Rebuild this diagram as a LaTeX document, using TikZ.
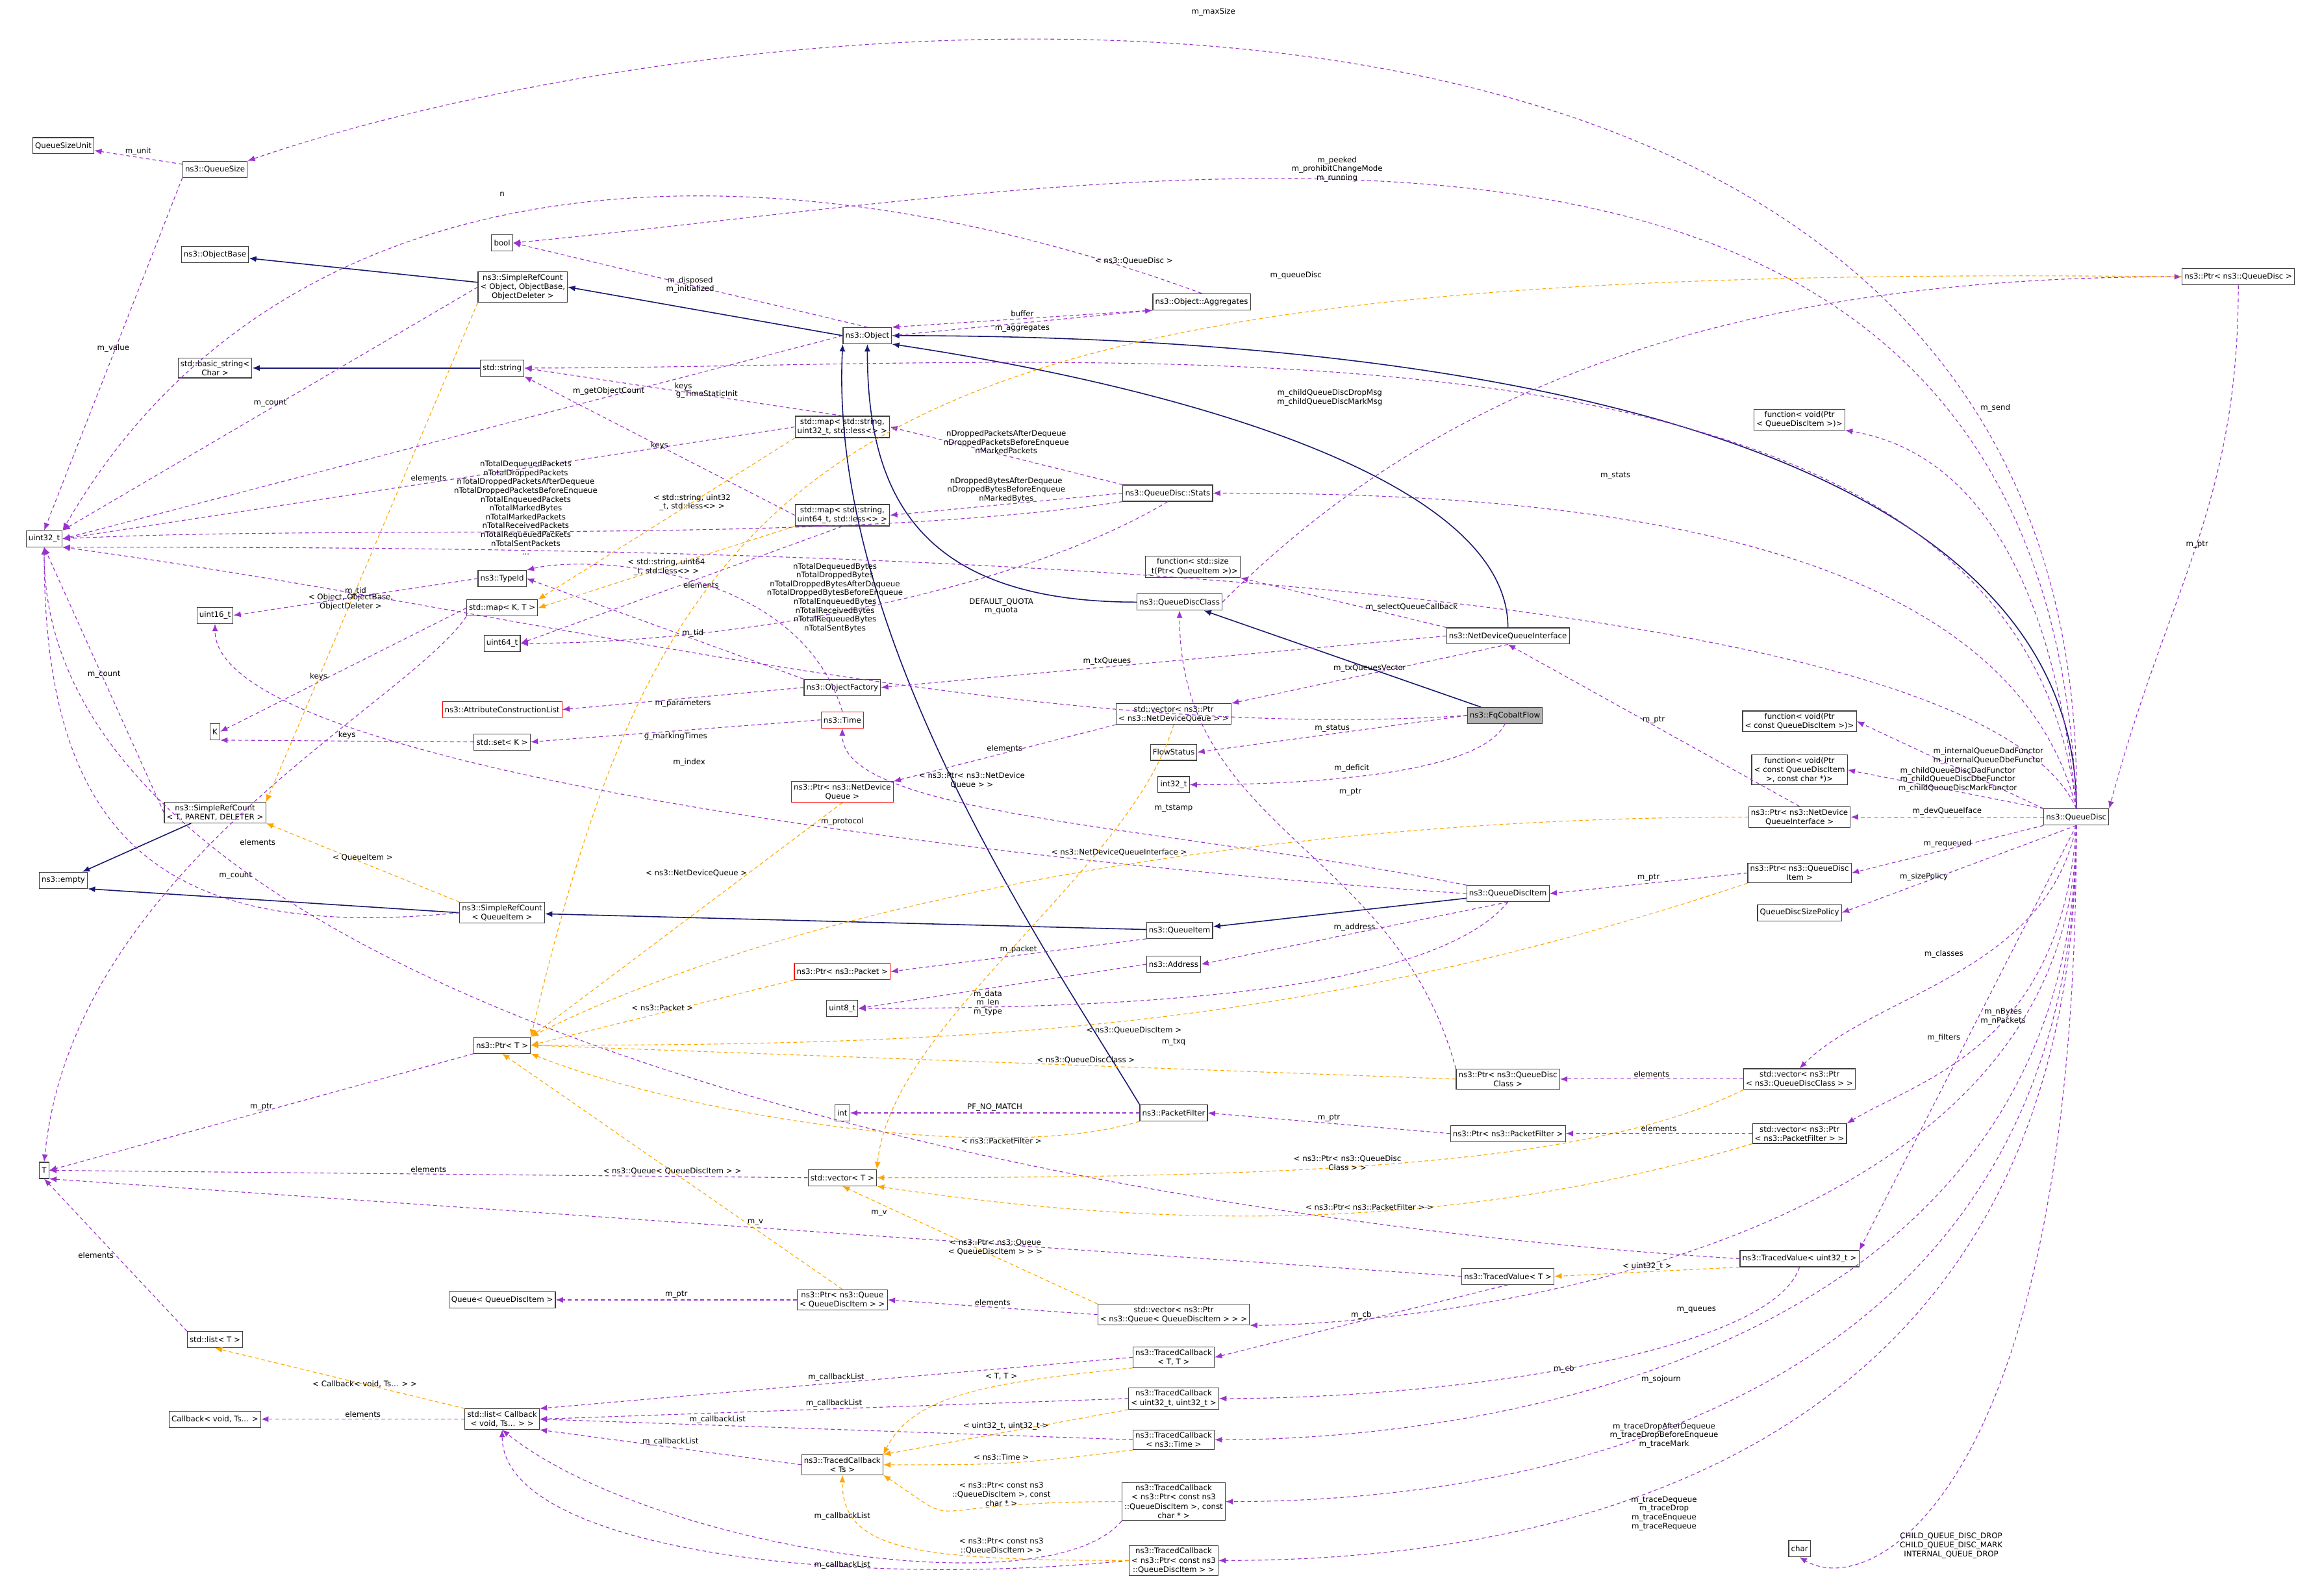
\documentclass[tikz,border=0pt]{standalone}
\usepackage{fontspec}
\setmainfont{DejaVu Sans}
\usetikzlibrary{arrows.meta}
\definecolor{usecol}{HTML}{9A32CD}
\definecolor{tplcol}{HTML}{FFA500}
\definecolor{inhcol}{HTML}{191970}
\tikzset{
  cls/.style={draw=black!75, fill=white, line width=0.5pt, inner sep=1.6pt,
    minimum height=11pt, align=center, font=\fontsize{5.2}{6.2}\selectfont},
  undoc/.style={cls, draw=red},
  cur/.style={cls, fill=black!30},
  lbl/.style={text=black, font=\fontsize{5.2}{6}\selectfont, align=center, inner sep=1pt},
  use/.style={usecol, dash pattern=on 2.5pt off 2pt, line width=0.5pt, -{Latex[length=5pt,width=4pt]}},
  tpl/.style={tplcol, dash pattern=on 2.5pt off 2pt, line width=0.5pt, -{Latex[length=5pt,width=4pt]}},
  inh/.style={inhcol, line width=0.7pt, -{Latex[length=5pt,width=4pt]}}
}
\begin{document}
\begin{tikzpicture}[x=1pt,y=1pt,yscale=-1]
\useasboundingbox[fill=white] (0,0) rectangle (1568,1084);

% classes
\node[cls] (qsu)   at (43,99)    {QueueSizeUnit};
\node[cls] (qsize) at (146,115)  {ns3::QueueSize};
\node[cls] (bool)  at (341,165)  {bool};
\node[cls] (obase) at (146,173)  {ns3::ObjectBase};
\node[cls] (srco)  at (355,195)  {ns3::SimpleRefCount\\< Object, ObjectBase,\\ObjectDeleter >};
\node[cls] (obj)   at (589,228)  {ns3::Object};
\node[cls] (aggr)  at (816,205)  {ns3::Object::Aggregates};
\node[cls] (pqd)   at (1520,188) {ns3::Ptr< ns3::QueueDisc >};
\node[cls] (bstr)  at (146,250)  {std::basic\_string<\\Char >};
\node[cls] (str)   at (341,250)  {std::string};
\node[cls] (map32) at (572,290)  {std::map< std::string,\\uint32\_t, std::less<> >};
\node[cls] (fsend) at (1222,285) {function< void(Ptr\\< QueueDiscItem >)>};
\node[cls] (stats) at (793,335)  {ns3::QueueDisc::Stats};
\node[cls] (map64) at (572,350)  {std::map< std::string,\\uint64\_t, std::less<> >};
\node[cls] (u32)   at (30,366)   {uint32\_t};
\node[cls] (fsize) at (810,385)  {function< std::size\\\_t(Ptr< QueueItem >)>};
\node[cls] (tid)   at (341,393)  {ns3::TypeId};
\node[cls] (qdc)   at (801,409)  {ns3::QueueDiscClass};
\node[cls] (mapkt) at (341,413)  {std::map< K, T >};
\node[cls] (u16)   at (146,418)  {uint16\_t};
\node[cls] (ndqi)  at (1024,432) {ns3::NetDeviceQueueInterface};
\node[cls] (u64)   at (341,437)  {uint64\_t};
\node[cls] (ofac)  at (572,467)  {ns3::ObjectFactory};
\node[undoc] (acl) at (341,482)  {ns3::AttributeConstructionList};
\node[cls] (vndq)  at (797,485)  {std::vector< ns3::Ptr\\< ns3::NetDeviceQueue > >};
\node[cur] (fq)    at (1022,486) {ns3::FqCobaltFlow};
\node[undoc] (time) at (572,489) {ns3::Time};
\node[cls] (kk)    at (146,497)  {K};
\node[cls] (setk)  at (341,504)  {std::set< K >};
\node[cls] (fstat) at (797,511)  {FlowStatus};
\node[cls] (fdad)  at (1222,490) {function< void(Ptr\\< const QueueDiscItem >)>};
\node[cls] (fdrop) at (1222,523) {function< void(Ptr\\< const QueueDiscItem\\>, const char *)>};
\node[cls] (i32)   at (797,533)  {int32\_t};
\node[undoc] (pndq) at (572,538) {ns3::Ptr< ns3::NetDevice\\Queue >};
\node[cls] (srct)  at (146,552)  {ns3::SimpleRefCount\\< T, PARENT, DELETER >};
\node[cls] (pndqi) at (1222,555) {ns3::Ptr< ns3::NetDevice\\QueueInterface >};
\node[cls] (qd)    at (1410,555) {ns3::QueueDisc};
\node[cls] (empty) at (43,598)   {ns3::empty};
\node[cls] (pqdi)  at (1222,593) {ns3::Ptr< ns3::QueueDisc\\Item >};
\node[cls] (qdi)   at (1024,607) {ns3::QueueDiscItem};
\node[cls] (srcq)  at (341,620)  {ns3::SimpleRefCount\\< QueueItem >};
\node[cls] (qdsp)  at (1222,620) {QueueDiscSizePolicy};
\node[cls] (qi)    at (801,632)  {ns3::QueueItem};
\node[undoc] (ppkt) at (572,660) {ns3::Ptr< ns3::Packet >};
\node[cls] (addr)  at (797,655)  {ns3::Address};
\node[cls] (u8)    at (572,685)  {uint8\_t};
\node[cls] (ptrt)  at (341,710)  {ns3::Ptr< T >};
\node[cls] (pqdc)  at (1024,733) {ns3::Ptr< ns3::QueueDisc\\Class >};
\node[cls] (vqdc)  at (1222,733) {std::vector< ns3::Ptr\\< ns3::QueueDiscClass > >};
\node[cls] (int)   at (572,756)  {int};
\node[cls] (pf)    at (797,756)  {ns3::PacketFilter};
\node[cls] (ppf)   at (1024,770) {ns3::Ptr< ns3::PacketFilter >};
\node[cls] (vpf)   at (1222,770) {std::vector< ns3::Ptr\\< ns3::PacketFilter > >};
\node[cls] (tt)    at (30,795)   {T};
\node[cls] (vect)  at (572,800)  {std::vector< T >};
\node[cls] (tv32)  at (1222,855) {ns3::TracedValue< uint32\_t >};
\node[cls] (tvt)   at (1024,867) {ns3::TracedValue< T >};
\node[cls] (qqdi)  at (341,883)  {Queue< QueueDiscItem >};
\node[cls] (pq)    at (572,883)  {ns3::Ptr< ns3::Queue\\< QueueDiscItem > >};
\node[cls] (vpq)   at (797,893)  {std::vector< ns3::Ptr\\< ns3::Queue< QueueDiscItem > > >};
\node[cls] (listt) at (146,910)  {std::list< T >};
\node[cls] (tctt)  at (797,922)  {ns3::TracedCallback\\< T, T >};
\node[cls] (tc32)  at (797,950)  {ns3::TracedCallback\\< uint32\_t, uint32\_t >};
\node[cls] (cb)    at (146,964)  {Callback< void, Ts... >};
\node[cls] (lcb)   at (341,964)  {std::list< Callback\\< void, Ts... > >};
\node[cls] (tctm)  at (797,978)  {ns3::TracedCallback\\< ns3::Time >};
\node[cls] (tcts)  at (572,995)  {ns3::TracedCallback\\< Ts >};
\node[cls] (tcpc)  at (797,1020) {ns3::TracedCallback\\< ns3::Ptr< const ns3\\::QueueDiscItem >, const\\char * >};
\node[cls] (tcp)   at (797,1060) {ns3::TracedCallback\\< ns3::Ptr< const ns3\\::QueueDiscItem > >};
\node[cls] (char)  at (1222,1052) {char};

% inheritance
\draw[inh] (srco) -- (obase);
\draw[inh] (obj.west) -- (srco.east);
\draw[inh] (str) -- (bstr);
\draw[inh] (srct) -- (empty);
\draw[inh] (srcq.west) -- (empty.south east);
\draw[inh] (qd.north) .. controls +(0,-250) and +(400,0) .. (obj.east);
\draw[inh] (ndqi.north) .. controls +(0,-100) and +(200,30) .. (obj.south east);
\draw[inh] (qdc.west) .. controls +(-150,0) and +(0,100) .. (obj.south);
\draw[inh] (fq) -- (qdc);
\draw[inh] (qi) -- (srcq);
\draw[inh] (qdi) -- (qi);
\draw[inh] (pf.north west) .. controls +(-60,-100) and +(-10,200) .. (obj.south west);

% usage
\draw[use] (qsize) -- node[lbl,above]{m\_unit} (qsu);
\draw[use] (qsize.south west) -- node[lbl,above]{m\_value} (u32.north);
\draw[use] (qd.north) .. controls +(10,-640) and +(350,-120) .. (qsize.north east);
\node[lbl] at (824,8) {m\_maxSize};
\draw[use] (aggr.north) .. controls +(-300,-110) and +(150,-260) .. (u32.north east);
\node[lbl] at (341,132) {n};
\draw[use] (aggr.south west) -- node[lbl,above]{buffer} (obj.north east);
\draw[use] (obj.east) -- node[lbl,below]{m\_aggregates} (aggr.south west);
\draw[use] (obj.north) -- node[lbl]{m\_disposed\\m\_initialized} (bool.east);
\draw[use] (qd.north) .. controls +(-20,-560) and +(420,-40) .. (bool.east);
\node[lbl] at (908,115) {m\_peeked\\m\_prohibitChangeMode\\m\_running};
\draw[use] (srco.west) -- node[lbl,above]{m\_count} (u32.north east);
\draw[use] (obj.west) -- node[lbl,above,pos=0.3]{m\_getObjectCount} (u32.east);
\draw[use] (qdc.east) .. controls +(150,-150) and +(-300,0) .. (pqd.west);
\node[lbl] at (880,187) {m\_queueDisc};
\draw[use] (pqd.south) .. controls +(0,150) and +(40,-150) .. (qd.north east);
\node[lbl] at (1492,370) {m\_ptr};
\draw[use] (qd.north) .. controls +(-40,-360) and +(400,0) .. (str.east);
\node[lbl] at (903,270) {m\_childQueueDiscDropMsg\\m\_childQueueDiscMarkMsg};
\draw[use] (map32.north) -- node[lbl,above]{keys} (str.east);
\draw[use] (map32.west) -- node[lbl,above]{elements} (u32.east);
\draw[use] (map64.west) -- node[lbl]{keys} (str.south east);
\draw[use] (map64.south) -- node[lbl,right]{elements} (u64.east);
\draw[use] (stats.north west) -- node[lbl,above]{nDroppedPacketsAfterDequeue\\nDroppedPacketsBeforeEnqueue\\nMarkedPackets} (map32.east);
\draw[use] (stats.west) -- node[lbl,above]{nDroppedBytesAfterDequeue\\nDroppedBytesBeforeEnqueue\\nMarkedBytes} (map64.east);
\draw[use] (stats.south west) .. controls +(-200,30) and +(200,-10) .. (u32.east);
\node[lbl] at (357,345) {nTotalDequeuedPackets\\nTotalDroppedPackets\\nTotalDroppedPacketsAfterDequeue\\nTotalDroppedPacketsBeforeEnqueue\\nTotalEnqueuedPackets\\nTotalMarkedBytes\\nTotalMarkedPackets\\nTotalReceivedPackets\\nTotalRequeuedPackets\\nTotalSentPackets\\...};
\draw[use] (stats.south) .. controls +(-100,60) and +(150,0) .. (u64.east);
\node[lbl] at (567,406) {nTotalDequeuedBytes\\nTotalDroppedBytes\\nTotalDroppedBytesAfterDequeue\\nTotalDroppedBytesBeforeEnqueue\\nTotalEnqueuedBytes\\nTotalReceivedBytes\\nTotalRequeuedBytes\\nTotalSentBytes};
\draw[use] (qd.north) .. controls +(-50,-200) and +(200,0) .. (stats.east);
\node[lbl] at (1097,323) {m\_stats};
\draw[use] (qd.north) .. controls +(-20,-200) and +(60,10) .. (fsend.south east);
\node[lbl] at (1355,277) {m\_send};
\draw[use] (ndqi.north west) -- node[lbl,right,pos=0.4]{m\_selectQueueCallback} (fsize.south east);
\draw[use] (ndqi.west) -- node[lbl,above,pos=0.6]{m\_txQueues} (ofac.east);
\draw[use] (ndqi.south) -- node[lbl,above]{m\_txQueuesVector} (vndq.north east);
\draw[use] (qd.north) .. controls +(-80,-180) and +(300,0) .. (u32.south east);
\node[lbl] at (680,412) {DEFAULT\_QUOTA\\m\_quota};
\draw[use] (ofac.north west) -- node[lbl,above,pos=0.4]{m\_tid} (tid.east);
\draw[use] (ofac.west) -- node[lbl,below]{m\_parameters} (acl.east);
\draw[use] (tid.west) -- node[lbl,above]{m\_tid} (u16.east);
\draw[use] (mapkt.west) -- node[lbl,above,pos=0.6]{keys} (kk.east);
\draw[use] (mapkt.south west) .. controls +(-40,60) and +(20,-200) .. (tt.north);
\node[lbl] at (175,572) {elements};
\draw[use] (setk.west) -- node[lbl,above]{keys} (kk.south east);
\draw[use] (time.west) -- node[lbl,below]{g\_markingTimes} (setk.east);
\draw[use] (time.north) .. controls +(-30,-100) and +(40,-10) .. (tid.north east);
\node[lbl] at (480,268) {g\_TimeStaticInit};
\draw[use] (fq.west) -- node[lbl,above]{m\_status} (fstat.east);
\draw[use] (fq.south) .. controls +(-20,40) and +(40,0) .. (i32.east);
\node[lbl] at (918,522) {m\_deficit};
\draw[use] (fq.west) .. controls +(-300,20) and +(300,40) .. (u32.south east);
\node[lbl] at (468,518) {m\_index};
\draw[use] (vndq.south west) -- node[lbl,above]{elements} (pndq.north east);
\draw[use] (qdi.north west) .. controls +(-200,-40) and +(0,60) .. (time.south);
\node[lbl] at (797,549) {m\_tstamp};
\draw[use] (qdi.west) .. controls +(-300,-20) and +(0,100) .. (u16.south);
\node[lbl] at (572,558) {m\_protocol};
\draw[use] (qdi.south) -- node[lbl,above]{m\_address} (addr.east);
\draw[use] (qdi.south) .. controls +(-50,60) and +(200,0) .. (u8.east);
\node[lbl] at (797,708) {m\_txq};
\draw[use] (pqdi.west) -- node[lbl,above]{m\_ptr} (qdi.east);
\draw[use] (pndqi.north) -- node[lbl,above]{m\_ptr} (ndqi.south);
\draw[use] (pqdc.north west) .. controls +(-40,-150) and +(0,150) .. (qdc.south);
\node[lbl] at (917,538) {m\_ptr};
\draw[use] (qi.south west) -- node[lbl,above]{m\_packet} (ppkt.east);
\draw[use] (addr.west) -- node[lbl,below,pos=0.55]{m\_data\\m\_len\\m\_type} (u8.east);
\draw[use] (srct.west) -- node[lbl,above]{m\_count} (u32.south);
\draw[use] (srcq.west) .. controls +(-200,20) and +(0,200) .. (u32.south);
\node[lbl] at (160,595) {m\_count};
\draw[use] (ptrt.south west) -- node[lbl,above]{m\_ptr} (tt.east);
\draw[use] (vect.west) -- node[lbl,above]{elements} (tt.east);
\draw[use] (pf.west) -- node[lbl,above]{PF\_NO\_MATCH} (int.east);
\draw[use] (ppf.west) -- node[lbl,above]{m\_ptr} (pf.east);
\draw[use] (vpf.west) -- node[lbl,above]{elements} (ppf.east);
\draw[use] (vqdc.west) -- node[lbl,above]{elements} (pqdc.east);
\draw[use] (tv32.west) .. controls +(-500,-30) and +(0,300) .. (u32.south);
\node[lbl] at (597,824) {m\_v};
\draw[use] (tvt.west) -- node[lbl,above]{m\_v} (tt.south east);
\draw[use] (tvt.south) -- node[lbl,above]{m\_cb} (tctt.east);
\draw[use] (tv32.south) .. controls +(-20,60) and +(150,0) .. (tc32.east);
\node[lbl] at (1062,930) {m\_cb};
\draw[use] (pq.west) -- node[lbl,above]{m\_ptr} (qqdi.east);
\draw[use] (vpq.west) -- node[lbl,above]{elements} (pq.east);
\draw[use] (listt.north west) -- node[lbl,left]{elements} (tt.south);
\draw[use] (lcb.west) -- node[lbl,above]{elements} (cb.east);
\draw[use] (tctt.west) -- node[lbl,above]{m\_callbackList} (lcb.north east);
\draw[use] (tc32.west) -- node[lbl,above]{m\_callbackList} (lcb.east);
\draw[use] (tctm.west) -- node[lbl,above,pos=0.7]{m\_callbackList} (lcb.east);
\draw[use] (tcts.west) -- node[lbl,above]{m\_callbackList} (lcb.south east);
\draw[use] (tcpc.south west) .. controls +(-50,60) and +(100,80) .. (lcb.south);
\node[lbl] at (572,1030) {m\_callbackList};
\draw[use] (tcp.west) .. controls +(-200,20) and +(0,80) .. (lcb.south);
\node[lbl] at (572,1063) {m\_callbackList};

% QueueDisc members
\draw[use] (qd.north west) -- node[lbl,right,pos=0.6]{m\_internalQueueDadFunctor\\m\_internalQueueDbeFunctor} (fdad.east);
\draw[use] (qd.north west) -- node[lbl,right,pos=0.75]{m\_childQueueDiscDadFunctor\\m\_childQueueDiscDbeFunctor\\m\_childQueueDiscMarkFunctor} (fdrop.east);
\draw[use] (qd.west) -- node[lbl,above]{m\_devQueueIface} (pndqi.east);
\draw[use] (qd.south west) -- node[lbl,above]{m\_requeued} (pqdi.east);
\draw[use] (qd.south) -- node[lbl,above,pos=0.65]{m\_sizePolicy} (qdsp.east);
\draw[use] (qd.south) .. controls +(-20,100) and +(50,-50) .. (vqdc.north);
\node[lbl] at (1320,648) {m\_classes};
\draw[use] (qd.south) .. controls +(-10,150) and +(50,-30) .. (vpf.north east);
\node[lbl] at (1320,705) {m\_filters};
\draw[use] (qd.south) -- node[lbl,right,pos=0.45]{m\_nBytes\\m\_nPackets} (tv32.north east);
\draw[use] (qd.south) .. controls +(0,300) and +(100,0) .. (vpq.south east);
\node[lbl] at (1152,890) {m\_queues};
\draw[use] (qd.south) .. controls +(0,350) and +(200,0) .. (tctm.east);
\node[lbl] at (1128,937) {m\_sojourn};
\draw[use] (qd.south) .. controls +(0,400) and +(200,0) .. (tcpc.east);
\node[lbl] at (1130,975) {m\_traceDropAfterDequeue\\m\_traceDropBeforeEnqueue\\m\_traceMark};
\draw[use] (qd.south) .. controls +(0,450) and +(200,0) .. (tcp.east);
\node[lbl] at (1130,1028) {m\_traceDequeue\\m\_traceDrop\\m\_traceEnqueue\\m\_traceRequeue};
\draw[use] (qd.south) .. controls +(0,450) and +(50,30) .. (char.south);
\node[lbl] at (1325,1050) {CHILD\_QUEUE\_DISC\_DROP\\CHILD\_QUEUE\_DISC\_MARK\\INTERNAL\_QUEUE\_DROP};

% templates
\draw[tpl] (pqd.west) .. controls +(-900,-10) and +(100,-420) .. (ptrt.north east);
\node[lbl] at (770,177) {< ns3::QueueDisc >};
\draw[tpl] (srco.south west) -- node[lbl,pos=0.6]{< Object, ObjectBase,\\ObjectDeleter >} (srct.north east);
\draw[tpl] (srcq.north west) -- node[lbl,above]{< QueueItem >} (srct.south east);
\draw[tpl] (map32.south west) -- node[lbl,pos=0.4]{< std::string, uint32\\\_t, std::less<> >} (mapkt.north east);
\draw[tpl] (map64.south west) -- node[lbl,pos=0.5]{< std::string, uint64\\\_t, std::less<> >} (mapkt.east);
\draw[tpl] (pndq.south) -- node[lbl,left,pos=0.3]{< ns3::NetDeviceQueue >} (ptrt.north east);
\draw[tpl] (pndqi.west) .. controls +(-300,0) and +(200,-100) .. (ptrt.north east);
\node[lbl] at (760,579) {< ns3::NetDeviceQueueInterface >};
\draw[tpl] (ppkt.south west) -- node[lbl,above]{< ns3::Packet >} (ptrt.east);
\draw[tpl] (pqdi.south west) .. controls +(-300,100) and +(300,0) .. (ptrt.east);
\node[lbl] at (770,700) {< ns3::QueueDiscItem >};
\draw[tpl] (pqdc.west) -- node[lbl,above,pos=0.4]{< ns3::QueueDiscClass >} (ptrt.east);
\draw[tpl] (pf.south west) .. controls +(-100,30) and +(100,40) .. (ptrt.south east);
\node[lbl] at (680,775) {< ns3::PacketFilter >};
\draw[tpl] (pq.north) -- node[lbl,pos=0.5]{< ns3::Queue< QueueDiscItem > >} (ptrt.south);
\draw[tpl] (vndq.south) .. controls +(-30,100) and +(10,-100) .. (vect.north east);
\node[lbl] at (660,530) {< ns3::Ptr< ns3::NetDevice\\Queue > >};
\draw[tpl] (vqdc.south west) .. controls +(-100,50) and +(300,0) .. (vect.east);
\node[lbl] at (915,790) {< ns3::Ptr< ns3::QueueDisc\\Class > >};
\draw[tpl] (vpf.south west) .. controls +(-200,60) and +(200,30) .. (vect.south east);
\node[lbl] at (930,820) {< ns3::Ptr< ns3::PacketFilter > >};
\draw[tpl] (vpq.north west) -- node[lbl,above,pos=0.4]{< ns3::Ptr< ns3::Queue\\< QueueDiscItem > > >} (vect.south);
\draw[tpl] (tv32.south west) -- node[lbl,above]{< uint32\_t >} (tvt.east);
\draw[tpl] (lcb.north west) -- node[lbl,pos=0.4]{< Callback< void, Ts... > >} (listt.south);
\draw[tpl] (tctt.south west) .. controls +(-100,10) and +(20,-40) .. (tcts.north east);
\node[lbl] at (680,935) {< T, T >};
\draw[tpl] (tc32.south west) -- node[lbl,above,pos=0.5]{< uint32\_t, uint32\_t >} (tcts.north east);
\draw[tpl] (tctm.south west) .. controls +(-80,10) and +(80,0) .. (tcts.east);
\node[lbl] at (680,990) {< ns3::Time >};
\draw[tpl] (tcpc.west) .. controls +(-150,0) and +(60,40) .. (tcts.south east);
\node[lbl] at (680,1015) {< ns3::Ptr< const ns3\\::QueueDiscItem >, const\\char * >};
\draw[tpl] (tcp.west) .. controls +(-150,0) and +(0,50) .. (tcts.south);
\node[lbl] at (680,1050) {< ns3::Ptr< const ns3\\::QueueDiscItem > >};
\end{tikzpicture}
\end{document}
